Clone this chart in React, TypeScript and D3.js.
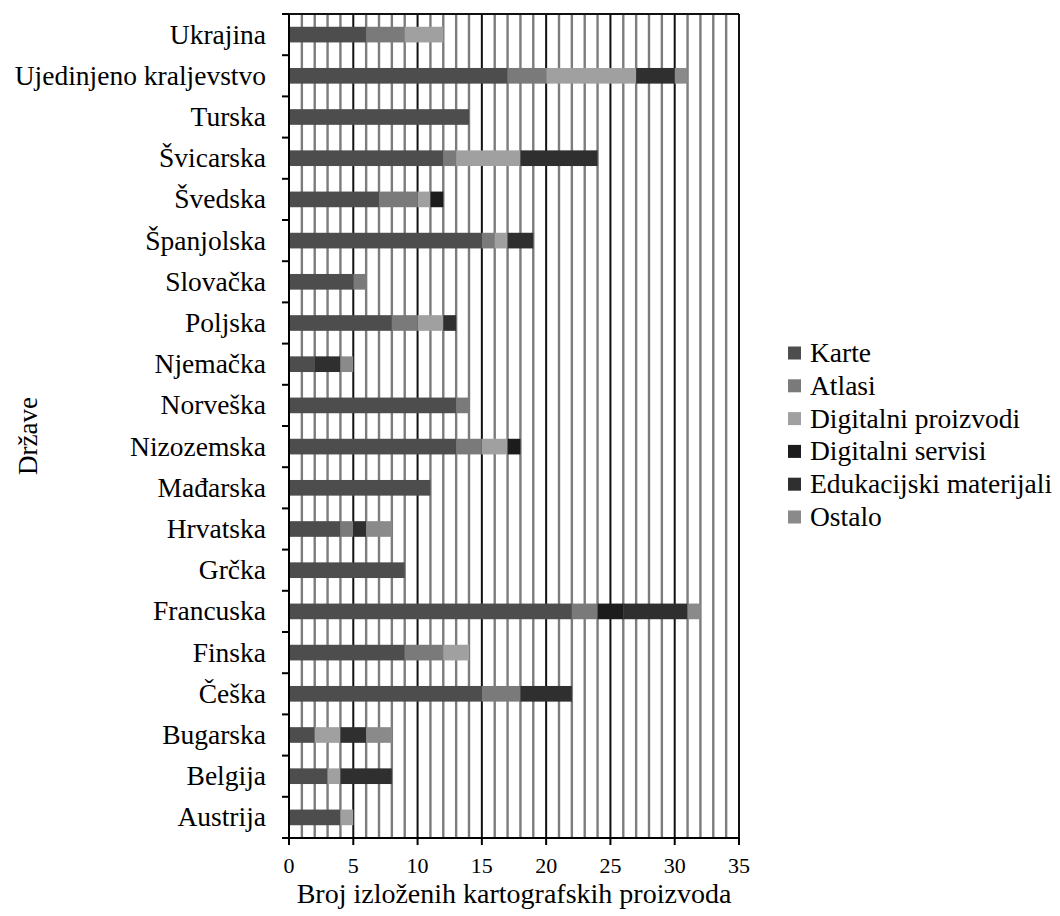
import React from "react";
import * as d3 from "d3";

const countries = [
  "Ukrajina", "Ujedinjeno kraljevstvo", "Turska", "Švicarska", "Švedska",
  "Španjolska", "Slovačka", "Poljska", "Njemačka", "Norveška", "Nizozemska",
  "Mađarska", "Hrvatska", "Grčka", "Francuska", "Finska", "Češka",
  "Bugarska", "Belgija", "Austrija",
];
const seriesNames = [
  "Karte", "Atlasi", "Digitalni proizvodi", "Digitalni servisi",
  "Edukacijski materijali", "Ostalo",
];
const karte = [6, 17, 14, 12, 7, 15, 5, 8, 2, 13, 13, 11, 4, 9, 22, 9, 15, 2, 3, 4];
const atlasi = [3, 3, 0, 1, 3, 1, 1, 2, 0, 1, 2, 0, 1, 0, 2, 3, 3, 0, 0, 0];
const digitalniProizvodi = [3, 7, 0, 5, 1, 1, 0, 2, 0, 0, 2, 0, 0, 0, 0, 2, 0, 2, 1, 1];
const digitalniServisi = [0, 0, 0, 0, 1, 0, 0, 0, 0, 0, 1, 0, 0, 0, 2, 0, 0, 0, 0, 0];
const edukacijski = [0, 3, 0, 6, 0, 2, 0, 1, 2, 0, 0, 0, 1, 0, 5, 0, 4, 2, 4, 0];
const ostalo = [0, 1, 0, 0, 0, 0, 0, 0, 1, 0, 0, 0, 2, 0, 1, 0, 0, 2, 0, 0];
const colors = ["#4d4d4d", "#7a7a7a", "#a0a0a0", "#1c1c1c", "#2f2f2f", "#8a8a8a"];
const xTicks = [0, 5, 10, 15, 20, 25, 30, 35];
const xTitle = "Broj izloženih kartografskih proizvoda";
const yTitle = "Države";

const W = 1060, H = 916;
const L = 289, R = 739, T = 14, B = 838;
const FONT = "Liberation Serif, Times New Roman, DejaVu Serif, serif";
const ts = { fontFamily: FONT };

export default function App() {
  const x = d3.scaleLinear().domain([0, 35]).range([L, R]);
  const y = d3.scaleBand<string>().domain(countries).range([T, B]).paddingInner(0.62).paddingOuter(0.31);
  const rows = countries.map((c, i) => {
    const o: any = { country: c };
    const vals = [karte, atlasi, digitalniProizvodi, digitalniServisi, edukacijski, ostalo];
    seriesNames.forEach((s, k) => (o[s] = vals[k][i]));
    return o;
  });
  const stack = d3.stack<any>().keys(seriesNames)(rows);
  const minor = d3.range(1, 35).filter((v) => v % 5 !== 0);
  const major = d3.range(5, 36, 5);
  const step = (B - T) / countries.length;
  const boundaries = d3.range(0, countries.length + 1).map((i) => T + i * step);
  const legendY0 = 353;
  const legendStep = 32.8;

  return (
    <svg width={W} height={H} style={{ position: "absolute", left: 0, top: 0, background: "#fff", fontFamily: FONT }}>
      <rect x={0} y={0} width={W} height={H} fill="#fff" />
      {minor.map((v) => (
        <line key={"mi" + v} x1={x(v)} x2={x(v)} y1={T} y2={B} stroke="#7c7c7c" strokeWidth={2.4} />
      ))}
      {major.map((v) => (
        <line key={"ma" + v} x1={x(v)} x2={x(v)} y1={T} y2={B} stroke="#111" strokeWidth={2} />
      ))}
      <line x1={L} x2={R} y1={T} y2={T} stroke="#111" strokeWidth={2} />
      {stack.map((layer, k) => (
        <g key={layer.key} fill={colors[k]}>
          {layer.map((d, i) =>
            d[1] - d[0] > 0 ? (
              <rect key={i} x={x(d[0])} y={y(countries[i])!} width={x(d[1]) - x(d[0])} height={y.bandwidth()} />
            ) : null
          )}
        </g>
      ))}
      <line x1={L} x2={L} y1={T} y2={B} stroke="#000" strokeWidth={2} />
      <line x1={L} x2={R} y1={B} y2={B} stroke="#000" strokeWidth={2} />
      {boundaries.map((b, i) => (
        <line key={"yt" + i} x1={L - 7} x2={L} y1={b} y2={b} stroke="#000" strokeWidth={2} />
      ))}
      {xTicks.map((v) => (
        <g key={"xt" + v}>
          <line x1={x(v)} x2={x(v)} y1={B} y2={B + 7} stroke="#000" strokeWidth={2} />
          <text style={ts} x={x(v)} y={873} textAnchor="middle" fontSize={22} fill="#000">{v}</text>
        </g>
      ))}
      {countries.map((c) => (
        <text style={ts} key={c} x={266} y={y(c)! + y.bandwidth() / 2 + 9} textAnchor="end" fontSize={27.5} fill="#000">{c}</text>
      ))}
      <text style={ts} x={(L + R) / 2} y={903} textAnchor="middle" fontSize={28} fill="#000">{xTitle}</text>
      <text style={ts} transform={`translate(37,436) rotate(-90)`} textAnchor="middle" fontSize={27} fill="#000">{yTitle}</text>
      {seriesNames.map((s, k) => (
        <g key={s} transform={`translate(788,${legendY0 + k * legendStep})`}>
          <rect x={0} y={-6.5} width={13} height={13} fill={colors[k]} />
          <text style={ts} x={22} y={9} fontSize={27.5} fill="#000">{s}</text>
        </g>
      ))}
    </svg>
  );
}
